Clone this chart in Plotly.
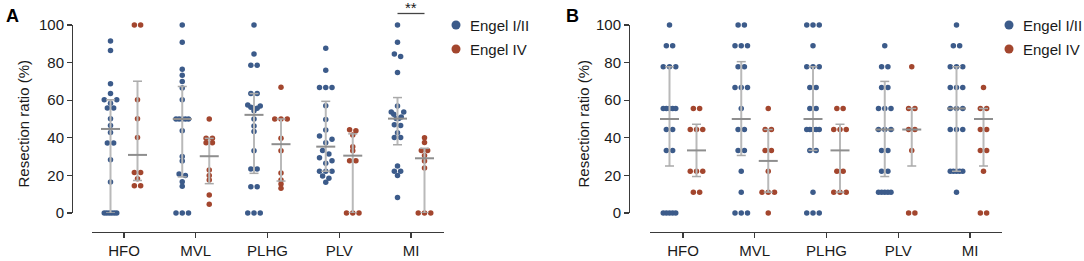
import numpy as np
import plotly.graph_objects as go

# ---------------- data ----------------
categories = ["HFO", "MVL", "PLHG", "PLV", "MI"]
group_names = ["Engel I/II", "Engel IV"]
y_ticks = [0, 20, 40, 60, 80, 100]
y_title = "Resection ratio (%)"

# Panel A : individual values
a_hfo_good = [91.5, 86.5, 68.7, 63.5, 60.2, 60.2, 58.4, 55.8, 55.8, 50.1, 46.5, 42.8, 37.3, 37.3, 28.3, 16.5, 0, 0, 0, 0, 0, 0]
a_hfo_poor = [100, 100, 60.2, 50.1, 40.2, 21.6, 21.6, 18.2, 14.5, 14.5]
a_mvl_good = [100, 90.8, 76.5, 73.3, 69.9, 66.5, 60.2, 50, 50, 50, 50, 50, 43.7, 30.1, 27.6, 20.7, 20, 16.6, 14.2, 0, 0, 0]
a_mvl_poor = [50, 39.7, 39.7, 37.4, 37.4, 22.9, 19.9, 17.6, 9.6, 4.6]
a_plhg_good = [100, 84.6, 78.6, 78.6, 63.5, 63.5, 57.4, 56.9, 56.2, 55.7, 54.4, 50, 46.3, 43.4, 33.1, 23.4, 23.4, 14, 14, 0, 0, 0]
a_plhg_poor = [66.9, 50, 50, 50, 39.7, 33.1, 21.3, 17.5, 15.4, 13.1]
a_plv_good = [87.6, 75.9, 66.7, 66.7, 66.7, 57.1, 49.8, 44.1, 41, 39.2, 37.4, 33.2, 31.4, 29.4, 27.8, 26.4, 22.2, 22.2, 22.2, 19.7, 18.5, 16.3]
a_plv_poor = [44.3, 43.8, 41.5, 35.3, 33.1, 27.8, 27.8, 0, 0, 0]
a_mi_good = [100, 90.8, 84.6, 83.2, 74.8, 56.9, 53.7, 53.7, 52.5, 51, 50.2, 50.2, 47, 46.6, 42.7, 40.1, 40.1, 25, 22.2, 22.2, 19.9, 8.2]
a_mi_poor = [40, 37.5, 33.3, 33.3, 30.6, 27.6, 23.9, 0, 0, 0]

# Panel A : median and interquartile range (per category)
a_good_median = [44.7, 50.0, 52.2, 35.3, 50.2]
a_good_q1 = [0.0, 19.2, 21.1, 22.2, 36.3]
a_good_q3 = [60.2, 67.3, 63.5, 59.4, 61.4]
a_poor_median = [30.9, 30.2, 36.6, 30.5, 29.1]
a_poor_q1 = [17.3, 15.6, 17.0, 0.0, 0.0]
a_poor_q3 = [70.1, 39.7, 50.0, 42.1, 34.4]

# Panel B : individual values
b_hfo_good = [100, 88.9, 88.9, 77.8, 77.8, 77.8, 55.6, 55.6, 55.6, 55.6, 55.6, 44.4, 44.4, 33.3, 33.3, 0, 0, 0, 0, 0]
b_hfo_poor = [55.6, 55.6, 44.4, 44.4, 44.4, 22.2, 22.2, 22.2, 11.1, 11.1]
b_mvl_good = [100, 100, 88.9, 88.9, 88.9, 77.8, 77.8, 66.7, 66.7, 66.7, 55.6, 44.4, 44.4, 33.3, 33.3, 22.2, 11.1, 0, 0, 0]
b_mvl_poor = [55.6, 44.4, 44.4, 33.3, 33.3, 22.2, 11.1, 11.1, 11.1, 0]
b_plhg_good = [100, 100, 100, 88.9, 77.8, 77.8, 77.8, 66.7, 66.7, 55.6, 55.6, 44.4, 44.4, 44.4, 44.4, 44.4, 33.3, 33.3, 11.1, 0, 0, 0]
b_plhg_poor = [55.6, 55.6, 44.4, 44.4, 44.4, 22.2, 22.2, 11.1, 11.1, 11.1]
b_plv_good = [88.9, 77.8, 77.8, 66.7, 66.7, 55.6, 55.6, 55.6, 44.4, 44.4, 44.4, 33.3, 33.3, 22.2, 22.2, 11.1, 11.1, 11.1, 11.1, 11.1]
b_plv_poor = [77.8, 55.6, 55.6, 44.4, 44.4, 33.3, 0, 0]
b_mi_good = [100, 88.9, 88.9, 77.8, 77.8, 77.8, 66.7, 66.7, 66.7, 55.6, 55.6, 55.6, 44.4, 44.4, 44.4, 22.2, 22.2, 22.2, 22.2, 22.2, 11.1]
b_mi_poor = [66.7, 55.6, 55.6, 44.4, 44.4, 33.3, 33.3, 22.2, 0, 0]

# Panel B : median and interquartile range (per category)
b_good_median = [50.0, 50.0, 50.0, 44.4, 55.6]
b_good_q1 = [25.0, 30.6, 33.3, 19.4, 22.2]
b_good_q3 = [77.8, 80.5, 77.8, 70.0, 77.8]
b_poor_median = [33.3, 27.7, 33.3, 44.4, 50.0]
b_poor_q1 = [19.4, 11.1, 11.1, 25.0, 25.0]
b_poor_q3 = [47.2, 44.4, 47.2, 55.6, 55.6]

panel_a_good = [a_hfo_good, a_mvl_good, a_plhg_good, a_plv_good, a_mi_good]
panel_a_poor = [a_hfo_poor, a_mvl_poor, a_plhg_poor, a_plv_poor, a_mi_poor]
panel_b_good = [b_hfo_good, b_mvl_good, b_plhg_good, b_plv_good, b_mi_good]
panel_b_poor = [b_hfo_poor, b_mvl_poor, b_plhg_poor, b_plv_poor, b_mi_poor]

# ---------------- style / geometry ----------------
W, H = 1084, 261
FONT = "Liberation Sans, Arial, sans-serif"
TXT = "#1a1a1a"
BLUE = "#3c5b8a"
RED = "#a3462e"
AXC = "#3a3a3a"
BAR_C = "#b9b9b9"
MED_C = "#8e8e8e"
CAP_C = "#a9a9a9"

Y_TOP, Y_BOT = 25, 213        # pixel rows of 100 and 0
X_LINE_Y = 232                # pixel row of the category axis line
CAT_PX = 71.75                # pixels between categories
GROUP_PX = 13.5               # half distance between the two groups

panels = [
    dict(good=panel_a_good, poor=panel_a_poor,
         stats=[(a_good_q1, a_good_median, a_good_q3), (a_poor_q1, a_poor_median, a_poor_q3)],
         yx=72, x0=92, x1=444, c0=124, xa="x", ya="y", leg_x=456, title_x=23, letter="A", letter_x=12.5),
    dict(good=panel_b_good, poor=panel_b_poor,
         stats=[(b_good_q1, b_good_median, b_good_q3), (b_poor_q1, b_poor_median, b_poor_q3)],
         yx=629, x0=650, x1=1002, c0=683, xa="x2", ya="y2", leg_x=1009, title_x=583, letter="B", letter_x=572),
]


def swarm_offsets(values, gap=2.0, step=6.3, maxspan=12.5):
    """Prism-like layout: cluster close values into rows and spread them horizontally (pixels)."""
    v = np.asarray(values, float)
    order = np.argsort(v, kind="stable")
    offs = np.zeros(len(v))
    bins, cur = [], [order[0]]
    for i in order[1:]:
        if v[i] - v[cur[-1]] < gap:
            cur.append(i)
        else:
            bins.append(cur)
            cur = [i]
    bins.append(cur)
    for b in bins:
        n = len(b)
        s = step if n < 3 else min(step, maxspan / (n - 1))
        slots = (np.arange(n) - (n - 1) / 2.0) * s
        slot_order = sorted(range(n), key=lambda k: (abs(slots[k]), -slots[k]))
        for idx, k in zip(b, slot_order):
            offs[idx] = slots[k]
    return offs


fig = go.Figure()
shapes = []
annotations = []

for p in panels:
    for gi, (series, color) in enumerate([(p["good"], BLUE), (p["poor"], RED)]):
        side = -1 if gi == 0 else 1
        q1s, meds, q3s = p["stats"][gi]
        xs, ys = [], []
        bar_x, bar_y, med_x, med_y, cap_x, cap_y = [], [], [], [], [], []
        hw_cap = 4.5 / CAT_PX
        hw_med = 9.5 / CAT_PX
        for ci, vals in enumerate(series):
            center = ci + side * GROUP_PX / CAT_PX
            offs = swarm_offsets(vals)
            xs += list(center + offs / CAT_PX)
            ys += list(vals)
            q1, med, q3 = q1s[ci], meds[ci], q3s[ci]
            bar_x += [center, center, None]
            bar_y += [q1, q3, None]
            cap_x += [center - hw_cap, center + hw_cap, None, center - hw_cap, center + hw_cap, None]
            cap_y += [q1, q1, None, q3, q3, None]
            med_x += [center - hw_med, center + hw_med, None]
            med_y += [med, med, None]
        fig.add_trace(go.Scatter(x=xs, y=ys, mode="markers", xaxis=p["xa"], yaxis=p["ya"],
                                 marker=dict(color=color, size=5.5, line=dict(width=0)),
                                 cliponaxis=False, showlegend=False, hoverinfo="skip",
                                 name=group_names[gi]))
        fig.add_trace(go.Scatter(x=bar_x, y=bar_y, mode="lines", xaxis=p["xa"], yaxis=p["ya"],
                                 line=dict(color=BAR_C, width=2), showlegend=False, hoverinfo="skip"))
        fig.add_trace(go.Scatter(x=cap_x, y=cap_y, mode="lines", xaxis=p["xa"], yaxis=p["ya"],
                                 line=dict(color=CAP_C, width=1.5), showlegend=False, hoverinfo="skip"))
        fig.add_trace(go.Scatter(x=med_x, y=med_y, mode="lines", xaxis=p["xa"], yaxis=p["ya"],
                                 line=dict(color=MED_C, width=2), showlegend=False, hoverinfo="skip"))

    # legend (symbol + text)
    for k, (name, color) in enumerate(zip(group_names, [BLUE, RED])):
        yc = (H - (25 + 24 * k)) / H
        shapes.append(dict(type="circle", xref="paper", yref="paper", xsizemode="pixel", ysizemode="pixel",
                           xanchor=p["leg_x"] / W, yanchor=yc, x0=-4.5, x1=4.5, y0=-4.5, y1=4.5,
                           fillcolor=color, line=dict(width=0)))
        annotations.append(dict(text=name, x=(p["leg_x"] + 12) / W, y=yc, xref="paper", yref="paper",
                                xanchor="left", yanchor="middle", showarrow=False,
                                font=dict(size=15, family=FONT, color=TXT)))
    annotations.append(dict(text="<b>%s</b>" % p["letter"], x=p["letter_x"] / W, y=(H - 16) / H,
                            xref="paper", yref="paper", xanchor="center", yanchor="middle",
                            showarrow=False, font=dict(size=18, family=FONT, color="black")))
    annotations.append(dict(text=y_title, x=p["title_x"] / W, y=(H - 123.5) / H, xref="paper", yref="paper",
                            xanchor="center", yanchor="middle", showarrow=False, textangle=-90,
                            font=dict(size=15, family=FONT, color=TXT)))

# significance marker (panel A, MI)
annotations.append(dict(text="**", x=4, y=(H - 7) / H, xref="x", yref="paper", xanchor="center",
                        yanchor="middle", showarrow=False, font=dict(size=15, family=FONT, color=TXT)))
shapes.append(dict(type="line", xref="x", yref="paper",
                   x0=4 - GROUP_PX / CAT_PX, x1=4 + GROUP_PX / CAT_PX,
                   y0=(H - 13.5) / H, y1=(H - 13.5) / H, line=dict(color="#444", width=1.3)))

layout = dict(
    width=W, height=H, margin=dict(l=0, r=0, t=0, b=0, autoexpand=False),
    paper_bgcolor="white", plot_bgcolor="white",
    font=dict(family=FONT, size=15, color=TXT),
    showlegend=False, shapes=shapes, annotations=annotations,
)

axis_x = dict(showline=True, linecolor=AXC, linewidth=1.3, ticks="outside", ticklen=5,
              tickwidth=1.3, tickcolor=AXC, showgrid=False, zeroline=False,
              tickvals=list(range(len(categories))), ticktext=categories,
              tickfont=dict(size=15, family=FONT, color=TXT), anchor="free",
              position=(H - X_LINE_Y) / H)
axis_y = dict(showline=True, linecolor=AXC, linewidth=1.3, ticks="outside", ticklen=5,
              tickwidth=1.3, tickcolor=AXC, showgrid=False, zeroline=False,
              range=[0, 100], tickvals=y_ticks, anchor="free",
              domain=[(H - Y_BOT) / H, (H - Y_TOP) / H],
              tickfont=dict(size=15, family=FONT, color=TXT))

for i, p in enumerate(panels):
    sx = "" if i == 0 else "2"
    layout["xaxis" + sx] = dict(axis_x, domain=[p["x0"] / W, p["x1"] / W],
                                range=[(p["x0"] - p["c0"]) / CAT_PX, (p["x1"] - p["c0"]) / CAT_PX])
    layout["yaxis" + sx] = dict(axis_y, position=p["yx"] / W)

fig.update_layout(**layout)

fig.write_html("out.html", config={"displayModeBar": False, "staticPlot": True},
               post_script="document.body.style.margin='0px';document.body.style.overflow='hidden';")
